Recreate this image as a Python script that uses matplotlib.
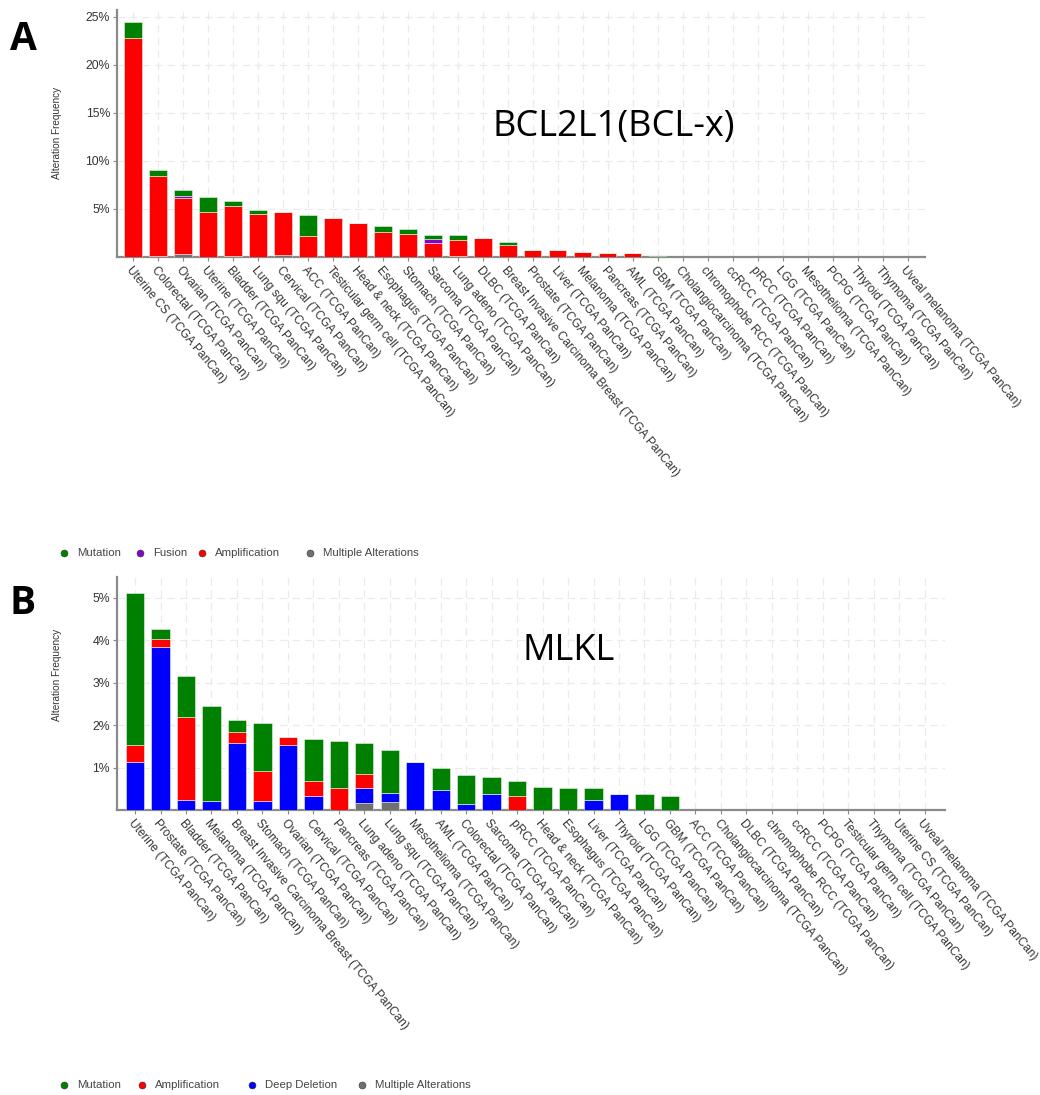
import matplotlib
matplotlib.use("Agg")
import matplotlib.pyplot as plt
from matplotlib.lines import Line2D
import numpy as np

W, H = 1040, 1095

# ---------------- Panel A data (BCL2L1) ----------------
a_types = ["Uterine CS", "Colorectal", "Ovarian", "Uterine", "Bladder", "Lung squ",
           "Cervical", "ACC", "Testicular germ cell", "Head & neck", "Esophagus",
           "Stomach", "Sarcoma", "Lung adeno", "DLBC",
           "Breast Invasive Carcinoma Breast", "Prostate", "Liver", "Melanoma",
           "Pancreas", "AML", "GBM", "Cholangiocarcinoma", "chromophobe RCC",
           "ccRCC", "pRCC", "LGG", "Mesothelioma", "PCPG", "Thyroid", "Thymoma",
           "Uveal melanoma"]
a_multi = [0.0, 0.12, 0.35, 0.0, 0.15, 0.0, 0.25, 0.0, 0.0, 0.0, 0.0, 0.0, 0.0, 0.12,
           0.0, 0.0, 0.0, 0.0, 0.0, 0.0, 0.0, 0.0, 0, 0, 0, 0, 0, 0, 0, 0, 0, 0]
a_amp = [22.8, 8.32, 5.83, 4.72, 5.2, 4.48, 4.47, 2.19, 4.03, 3.55, 2.64, 2.36, 1.42, 1.68,
         2.01, 1.25, 0.73, 0.73, 0.56, 0.45, 0.38, 0.0, 0, 0, 0, 0, 0, 0, 0, 0, 0, 0]
a_fusion = [0.0, 0.0, 0.12, 0.0, 0.0, 0.0, 0.0, 0.0, 0.0, 0.0, 0.0, 0.0, 0.42, 0.0,
            0.0, 0.0, 0.0, 0.0, 0.0, 0.0, 0.0, 0.0, 0, 0, 0, 0, 0, 0, 0, 0, 0, 0]
a_mut = [1.7, 0.62, 0.68, 1.48, 0.48, 0.45, 0.0, 2.15, 0.0, 0.0, 0.55, 0.52, 0.42, 0.46,
         0.0, 0.35, 0.0, 0.0, 0.0, 0.0, 0.0, 0.14, 0, 0, 0, 0, 0, 0, 0, 0, 0, 0]

# ---------------- Panel B data (MLKL) ----------------
b_types = ["Uterine", "Prostate", "Bladder", "Melanoma",
           "Breast Invasive Carcinoma Breast", "Stomach", "Ovarian", "Cervical",
           "Pancreas", "Lung adeno", "Lung squ", "Mesothelioma", "AML", "Colorectal",
           "Sarcoma", "pRCC", "Head & neck", "Esophagus", "Liver", "Thyroid", "LGG",
           "GBM", "ACC", "Cholangiocarcinoma", "DLBC", "chromophobe RCC", "ccRCC",
           "PCPG", "Testicular germ cell", "Thymoma", "Uterine CS", "Uveal melanoma"]
b_multi = [0.0, 0.0, 0.0, 0.0, 0.0, 0.0, 0.0, 0.0, 0.0, 0.16, 0.19, 0.0, 0.0, 0.0,
           0.0, 0.0, 0.0, 0.0, 0.0, 0.0, 0.0, 0.0, 0, 0, 0, 0, 0, 0, 0, 0, 0, 0]
b_del = [1.13, 3.85, 0.23, 0.22, 1.57, 0.22, 1.53, 0.33, 0.0, 0.36, 0.20, 1.14, 0.48,
         0.15, 0.37, 0.0, 0.0, 0.0, 0.24, 0.38, 0.0, 0.0, 0, 0, 0, 0, 0, 0, 0, 0, 0, 0]
b_amp = [0.39, 0.19, 1.96, 0.0, 0.27, 0.69, 0.18, 0.35, 0.53, 0.34, 0.0, 0.0, 0.0,
         0.0, 0.0, 0.34, 0.0, 0.0, 0.0, 0.0, 0.0, 0.0, 0, 0, 0, 0, 0, 0, 0, 0, 0, 0]
b_mut = [3.59, 0.22, 0.97, 2.24, 0.27, 1.13, 0.0, 1.0, 1.10, 0.72, 1.03, 0.0, 0.50,
         0.67, 0.40, 0.35, 0.55, 0.53, 0.28, 0.0, 0.37, 0.32, 0, 0, 0, 0, 0, 0, 0, 0, 0, 0]

a_yticks = [5, 10, 15, 20, 25]
b_yticks = [1, 2, 3, 4, 5]

C_MUT = "#008000"
C_FUS = "#8B00C8"
C_AMP = "#FF0000"
C_DEL = "#0000FF"
C_MULTI = "#707070"
TXT = "#333333"
GRID = "#ebebeb"
SPINE = "#8a8a8a"

plt.rcParams["font.family"] = ["Liberation Sans", "DejaVu Sans"]

fig = plt.figure(figsize=(W / 100, H / 100), dpi=100)


def px_axes(left, top, right, bottom):
    return fig.add_axes([left / W, 1 - bottom / H, (right - left) / W, (bottom - top) / H])


def style_axes(ax, labels, yticks, xlim, ylim):
    ax.set_xlim(*xlim)
    ax.set_ylim(*ylim)
    ax.set_xticks(np.arange(len(labels)))
    ax.set_xticklabels([f"{t} (TCGA PanCan)" for t in labels], rotation=-50,
                       ha="left", va="top", rotation_mode="anchor",
                       fontsize=8.6, color=TXT)
    ax.set_yticks(yticks)
    ax.set_yticklabels([f"{v}%" for v in yticks], fontsize=8.8, color=TXT)
    for s in ["top", "right"]:
        ax.spines[s].set_visible(False)
    for s in ["left", "bottom"]:
        ax.spines[s].set_color(SPINE)
        ax.spines[s].set_linewidth(1.6)
    ax.tick_params(axis="both", length=3, color=SPINE, pad=2)
    ax.grid(True, color=GRID, linestyle=(0, (6, 4)), linewidth=0.9)
    ax.set_axisbelow(True)


def stack(ax, layers, colors, width):
    x = np.arange(len(layers[0]))
    bottom = np.zeros(len(x))
    for vals, c in zip(layers, colors):
        v = np.array(vals, dtype=float)
        ax.bar(x, v, width=width, bottom=bottom, color=c, edgecolor="#e8f5e8",
               linewidth=0.4, zorder=3)
        bottom += v


TITLE_FAM = ["Open Sans", "Noto Sans", "DejaVu Sans"]

# Panel A
axA = px_axes(117, 10, 925, 257)
stack(axA, [a_multi, a_amp, a_fusion, a_mut], [C_MULTI, C_AMP, C_FUS, C_MUT], 0.7)
style_axes(axA, a_types, a_yticks, (-0.64, 31.7), (0, 25.7))
fig.text(57 / W, 1 - 133 / H, "Alteration Frequency", rotation=90, fontsize=7.2,
         color=TXT, ha="center", va="center")
fig.text(614 / W, 1 - 127 / H, "BCL2L1(BCL-x)", fontsize=26, ha="center",
         va="center", color="black", family=TITLE_FAM)
fig.text(23 / W, 1 - 40 / H, "A", fontsize=28, fontweight="bold", ha="center",
         va="center", family=TITLE_FAM)

# Panel B
axB = px_axes(117, 577, 945, 810)
stack(axB, [b_multi, b_del, b_amp, b_mut], [C_MULTI, C_DEL, C_AMP, C_MUT], 0.72)
style_axes(axB, b_types, b_yticks, (-0.71, 31.8), (0, 5.49))
fig.text(57 / W, 1 - 675 / H, "Alteration Frequency", rotation=90, fontsize=7.2,
         color=TXT, ha="center", va="center")
fig.text(569 / W, 1 - 651 / H, "MLKL", fontsize=26, ha="center", va="center",
         color="black", family=TITLE_FAM)
fig.text(23 / W, 1 - 603 / H, "B", fontsize=28, fontweight="bold", ha="center",
         va="center", family=TITLE_FAM)


def legend_row(y, items):
    for x, color, label in items:
        fig.add_artist(Line2D([x / W], [1 - y / H], marker="o", markersize=5,
                              color=color, markeredgecolor="#333333",
                              markeredgewidth=0.4, linestyle="none",
                              transform=fig.transFigure))
        fig.text((x + 13) / W, 1 - y / H, label, fontsize=8.2, color="#444444",
                 ha="left", va="center")


legend_row(553, [(64, C_MUT, "Mutation"), (140, C_FUS, "Fusion"),
                 (202, C_AMP, "Amplification"), (310, C_MULTI, "Multiple Alterations")])
legend_row(1085, [(64, C_MUT, "Mutation"), (142, C_AMP, "Amplification"),
                  (252, C_DEL, "Deep Deletion"), (362, C_MULTI, "Multiple Alterations")])

fig.savefig("out.png", dpi=100, facecolor="white")
